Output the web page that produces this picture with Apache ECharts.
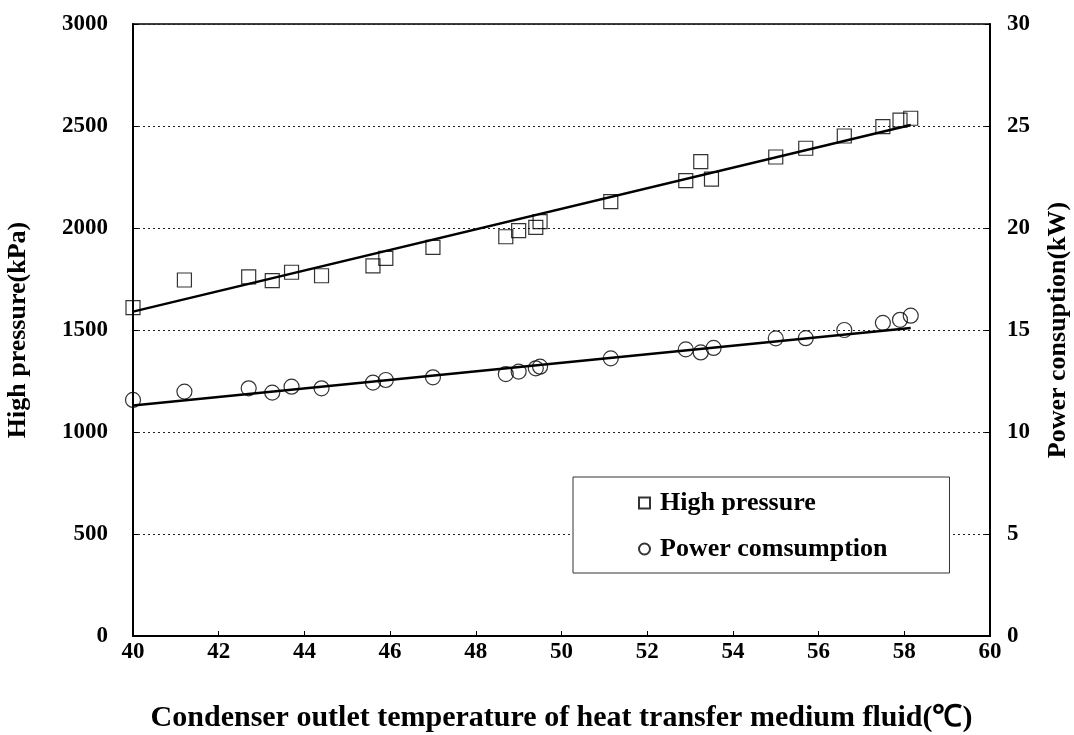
<!DOCTYPE html>
<html>
<head>
<meta charset="utf-8">
<script src="https://cdn.jsdelivr.net/npm/echarts@6/dist/echarts.min.js"></script>
<style>
  html, body { margin: 0; padding: 0; background: #fff; }
  #chart { width: 1074px; height: 735px; }
</style>
</head>
<body>
<div id="chart"></div>
<script>
// 冷凝器出口温度 (℃)
const tempHP = [40.0, 41.2, 42.7, 43.25, 43.7, 44.4, 45.6, 45.9, 47.0, 48.7, 49.0, 49.4, 49.5, 51.15, 52.9, 53.25, 53.5, 55.0, 55.7, 56.6, 57.5, 57.9, 58.15];
const highPressure = [1610, 1745, 1760, 1742, 1783, 1766, 1814, 1851, 1905, 1957, 1987, 2003, 2031, 2129, 2232, 2325, 2240, 2348, 2391, 2451, 2497, 2529, 2538];

const tempPC = [40.0, 41.2, 42.7, 43.25, 43.7, 44.4, 45.6, 45.9, 47.0, 48.7, 49.0, 49.4, 49.5, 51.15, 52.9, 53.25, 53.55, 55.0, 55.7, 56.6, 57.5, 57.9, 58.15];
const powerConsumption = [11.57, 11.98, 12.14, 11.93, 12.22, 12.14, 12.42, 12.55, 12.68, 12.84, 12.96, 13.12, 13.2, 13.61, 14.05, 13.9, 14.12, 14.59, 14.6, 15.0, 15.35, 15.5, 15.7];

// 回归线端点
const fitX = [40, 58.15];
const pressureFit = [1590, 2505];
const powerFit = [11.3, 15.1];

const font = '"Times New Roman", "Liberation Serif", serif';

const zip = (xs, ys) => xs.map((x, i) => [x, ys[i]]);

const chart = echarts.init(document.getElementById('chart'));

const option = {
  backgroundColor: '#fff',
  animation: false,
  grid: {
    left: 133, right: 84, top: 24, bottom: 99,
    outerBoundsMode: 'none', containLabel: false,
    show: true, borderColor: '#000', borderWidth: 1.5
  },
  legend: {
    orient: 'vertical',
    left: 573, top: 477,
    padding: [13, 62, 11, 65],
    itemGap: 20,
    itemWidth: 11, itemHeight: 11,
    backgroundColor: '#fff',
    borderColor: '#333', borderWidth: 1,
    textStyle: { fontFamily: font, fontWeight: 'bold', fontSize: 26, color: '#000', padding: [0, 0, 0, 5] },
    data: ['High pressure', 'Power comsumption']
  },
  xAxis: {
    type: 'value', min: 40, max: 60, interval: 2,
    name: 'Condenser outlet temperature of heat transfer medium fluid(℃)',
    nameLocation: 'middle', nameGap: 67,
    nameTextStyle: { fontFamily: font, fontWeight: 'bold', fontSize: 30, color: '#000' },
    axisLine: { lineStyle: { color: '#000', width: 2 } },
    axisTick: { inside: true, length: 5, lineStyle: { color: '#000' } },
    axisLabel: { margin: 5, fontFamily: font, fontWeight: 'bold', fontSize: 23, color: '#000' },
    splitLine: { show: false }
  },
  yAxis: [
    {
      type: 'value', min: 0, max: 3000, interval: 500,
      name: 'High pressure(kPa)',
      nameLocation: 'middle', nameGap: 102, nameRotate: 90,
      nameTextStyle: { fontFamily: font, fontWeight: 'bold', fontSize: 26, color: '#000' },
      axisLine: { show: true, lineStyle: { color: '#000', width: 2 } },
      axisTick: { show: true, inside: true, length: 5, lineStyle: { color: '#000' } },
      axisLabel: { margin: 25, fontFamily: font, fontWeight: 'bold', fontSize: 23, color: '#000', formatter: v => String(v) },
      splitLine: { show: true, lineStyle: { color: '#222', type: [2, 3], width: 1 } }
    },
    {
      type: 'value', min: 0, max: 30, interval: 5, position: 'right',
      name: 'Power consuption(kW)',
      nameLocation: 'middle', nameGap: 55, nameRotate: 90,
      nameTextStyle: { fontFamily: font, fontWeight: 'bold', fontSize: 26, color: '#000' },
      axisLine: { show: true, lineStyle: { color: '#000', width: 2 } },
      axisTick: { show: true, inside: true, length: 5, lineStyle: { color: '#000' } },
      axisLabel: { margin: 17, fontFamily: font, fontWeight: 'bold', fontSize: 23, color: '#000', formatter: v => String(v) },
      splitLine: { show: false }
    }
  ],
  series: [
    {
      name: 'High pressure fit', type: 'line', yAxisIndex: 0,
      data: zip(fitX, pressureFit), showSymbol: false, silent: true,
      lineStyle: { color: '#000', width: 2.5 }, z: 2
    },
    {
      name: 'Power fit', type: 'line', yAxisIndex: 1,
      data: zip(fitX, powerFit), showSymbol: false, silent: true,
      lineStyle: { color: '#000', width: 2.5 }, z: 2
    },
    {
      name: 'High pressure', type: 'scatter', yAxisIndex: 0,
      data: zip(tempHP, highPressure),
      symbol: 'rect', symbolSize: 14,
      itemStyle: { color: 'rgba(255,255,255,0)', borderColor: '#000', borderWidth: 1.2 },
      z: 3
    },
    {
      name: 'Power comsumption', type: 'scatter', yAxisIndex: 1,
      data: zip(tempPC, powerConsumption),
      symbol: 'circle', symbolSize: 15,
      itemStyle: { color: 'rgba(255,255,255,0)', borderColor: '#000', borderWidth: 1.2 },
      z: 3
    }
  ]
};

chart.setOption(option);
</script>
</body>
</html>
